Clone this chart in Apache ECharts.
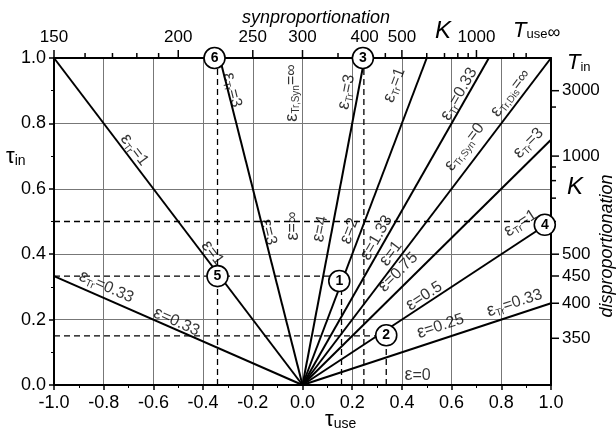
<!DOCTYPE html>
<html>
<head>
<meta charset="utf-8">
<script src="https://cdn.jsdelivr.net/npm/echarts@6/dist/echarts.min.js"></script>
<style>
  html, body { margin: 0; background: #fff; }
  #chart { width: 616px; height: 442px; }
</style>
</head>
<body>
<div id="chart"></div>
<script>
// ε fan: every line starts at the origin and ends here
const lineEndX = [-1, -1, -0.333, 0.25, 0.5, 0.75, 1, 1, 1, 1];
const lineEndY = [0.333, 1, 1, 1, 1, 1, 1, 0.75, 0.5, 0.25];

// dashed guides, from (x1,y1) to (x2,y2)
const dashX1 = [-1, -1, -1, -0.342, 0.157, 0.247, 0.337];
const dashY1 = [0.5, 0.333, 0.15, 0, 0, 0, 0];
const dashX2 = [0.96, 0.14, 0.33, -0.342, 0.157, 0.247, 0.337];
const dashY2 = [0.5, 0.333, 0.15, 1, 0.3, 1, 0.14];

// circled state points
const markNo = ['1', '2', '3', '4', '5', '6'];
const markX = [0.148, 0.337, 0.243, 0.975, -0.342, -0.354];
const markY = [0.318, 0.152, 1, 0.49, 0.333, 1];

// labels along the fan lines
const labSub = ['Tr', '', 'Tr', '', 'Tr', '', 'Tr,Syn', '', '', 'Tr', '', 'Tr', '', 'Tr', '', '', '', '', 'Tr', 'Tr', 'Tr', 'Tr,Syn', 'Tr,Dis', ''];
const labVal = ['=1', '=1', '=0.33', '=0.33', '=3', '=3', '=∞', '=∞', '=4', '=3', '=2', '=1', '=1.33', '=0.33', '=1', '=0.75', '=0.5', '=0.25', '=0.33', '=1', '=3', '=0', '=∞', '=0'];
const labX = [-0.676, -0.362, -0.789, -0.507, -0.282, -0.137, -0.044, -0.04, 0.072, 0.177, 0.189, 0.37, 0.298, 0.63, 0.356, 0.385, 0.49, 0.555, 0.853, 0.877, 0.909, 0.652, 0.837, 0.463];
const labY = [0.719, 0.404, 0.30, 0.193, 0.902, 0.468, 0.893, 0.486, 0.477, 0.896, 0.471, 0.917, 0.45, 0.89, 0.402, 0.345, 0.272, 0.18, 0.251, 0.495, 0.74, 0.728, 0.893, 0.03];
const labAngle = [-53, -53, -24, -24, -76, -76, 90, 90, 79, 79, 69, 69, 60, 60, 53, 45, 33, 18, 18, 33, 45, 53, 53, 0];

// temperature scales (K), tau = 1 - T0/T
const T0 = 300;
const topMajorK = [150, 200, 250, 300, 400, 500, 1000];
const topMinorK = [160, 170, 180, 190, 350, 450, 600, 700, 800, 900, 2000, 3000];
const rightMajorK = [3000, 1000, 500, 450, 400, 350];
const rightMinorK = [2000, 900, 800, 700, 600];

const FONT = '"Liberation Sans", Arial, sans-serif';
const tau = T => 1 - T0 / T;

const chart = echarts.init(document.getElementById('chart'));

function tickItem(len, horizontal, labels) {
  return function (params, api) {
    const p = api.coord([api.value(0), api.value(1)]);
    const kids = [];
    if (horizontal) {
      kids.push({ type: 'line', shape: { x1: p[0], y1: p[1], x2: p[0] + len, y2: p[1] }, style: { stroke: '#000', lineWidth: 1.5 } });
      if (labels) kids.push({ type: 'text', style: { text: String(labels[params.dataIndex]), x: p[0] + 11, y: p[1], align: 'left', verticalAlign: 'middle', font: '17px ' + FONT, fill: '#000' } });
    } else {
      kids.push({ type: 'line', shape: { x1: p[0], y1: p[1], x2: p[0], y2: p[1] - len }, style: { stroke: '#000', lineWidth: 1.5 } });
      if (labels) kids.push({ type: 'text', style: { text: String(labels[params.dataIndex]), x: p[0], y: p[1] - 12, align: 'center', verticalAlign: 'bottom', font: '17px ' + FONT, fill: '#000' } });
    }
    return { type: 'group', children: kids };
  };
}

const fanSeries = lineEndX.map((x, i) => ({
  type: 'line',
  data: [[0, 0], [x, lineEndY[i]]],
  symbol: 'none',
  silent: true,
  z: 3,
  lineStyle: { color: '#000', width: 2 }
}));

const guideSeries = dashX1.map((x, i) => ({
  type: 'line',
  data: [[x, dashY1[i]], [dashX2[i], dashY2[i]]],
  symbol: 'none',
  silent: true,
  z: 2,
  lineStyle: { color: '#000', width: 1.3, type: [6, 4] }
}));

const option = {
  animation: false,
  backgroundColor: '#fff',
  grid: { left: 54, right: 65, top: 58, bottom: 57 },
  xAxis: [
    {
      type: 'value', min: -1, max: 1, interval: 0.2, position: 'bottom',
      axisLine: { onZero: false, lineStyle: { color: '#000', width: 2 } },
      axisTick: { length: 5, lineStyle: { color: '#000', width: 1.5 } },
      minorTick: { show: true, splitNumber: 2, length: 3, lineStyle: { color: '#000' } },
      axisLabel: {
        color: '#000', fontSize: 18, fontFamily: FONT, margin: 9,
        formatter: v => (Math.abs(v) < 1e-9 ? '0.0' : v.toFixed(1))
      },
      splitLine: { show: true, lineStyle: { color: '#777', width: 1 } }
    },
    {
      type: 'value', min: -1, max: 1, position: 'top',
      axisLine: { onZero: false, lineStyle: { color: '#000', width: 2 } },
      axisTick: { show: false }, axisLabel: { show: false }, splitLine: { show: false }
    }
  ],
  yAxis: [
    {
      type: 'value', min: 0, max: 1, interval: 0.2, position: 'left',
      axisLine: { onZero: false, lineStyle: { color: '#000', width: 2 } },
      axisTick: { length: 5, lineStyle: { color: '#000', width: 1.5 } },
      minorTick: { show: true, splitNumber: 2, length: 3, lineStyle: { color: '#000' } },
      axisLabel: {
        color: '#000', fontSize: 18, fontFamily: FONT, margin: 8,
        formatter: v => (Math.abs(v) < 1e-9 ? '0.0' : v.toFixed(1))
      },
      splitLine: { show: true, lineStyle: { color: '#777', width: 1 } }
    },
    {
      type: 'value', min: 0, max: 1, position: 'right',
      axisLine: { show: true, onZero: false, lineStyle: { color: '#000', width: 2 } },
      axisTick: { show: false }, axisLabel: { show: false }, splitLine: { show: false }
    }
  ],
  series: [
    ...guideSeries,
    ...fanSeries,
    {
      // top K scale
      type: 'custom', clip: false, silent: true, z: 4,
      data: topMajorK.map(k => [tau(k), 1]),
      renderItem: tickItem(8, false, topMajorK)
    },
    {
      type: 'custom', clip: false, silent: true, z: 4,
      data: topMinorK.map(k => [tau(k), 1]),
      renderItem: tickItem(5, false, null)
    },
    {
      // right K scale
      type: 'custom', clip: false, silent: true, z: 4,
      data: rightMajorK.map(k => [1, tau(k)]),
      renderItem: tickItem(8, true, rightMajorK)
    },
    {
      type: 'custom', clip: false, silent: true, z: 4,
      data: rightMinorK.map(k => [1, tau(k)]),
      renderItem: tickItem(5, true, null)
    },
    {
      // ε labels
      type: 'scatter', clip: false, silent: true, z: 6,
      symbolSize: 1,
      itemStyle: { color: 'rgba(0,0,0,0)' },
      data: labX.map((x, i) => ({ value: [x, labY[i]], label: { rotate: labAngle[i] } })),
      label: {
        show: true, position: 'inside', color: '#000',
        formatter: p => {
          const s = labSub[p.dataIndex];
          return '{e|ε}' + (s ? '{s|' + s + '}' : '') + '{v|' + labVal[p.dataIndex] + '}';
        },
        rich: {
          e: { fontSize: 18, fontFamily: FONT, color: '#000' },
          s: { fontSize: 10, fontFamily: FONT, color: '#000', padding: [9, 0, 0, 0] },
          v: { fontSize: 16, fontFamily: FONT, color: '#000' }
        }
      }
    },
    {
      // circled points
      type: 'scatter', clip: false, silent: true, z: 8,
      symbol: 'circle', symbolSize: 21,
      itemStyle: { color: '#fff', borderColor: '#000', borderWidth: 1.6, opacity: 1 },
      data: markX.map((x, i) => [x, markY[i]]),
      label: {
        show: true, position: 'inside', color: '#000',
        fontSize: 14, fontWeight: 'bold', fontFamily: FONT,
        formatter: p => markNo[p.dataIndex]
      }
    }
  ],
  graphic: [
    { type: 'text', x: 316, y: 18, style: { text: 'synproportionation', font: 'italic 18px ' + FONT, fill: '#000', align: 'center', verticalAlign: 'middle' } },
    { type: 'text', x: 443, y: 31, style: { text: 'K', font: 'italic 24px ' + FONT, fill: '#000', align: 'center', verticalAlign: 'middle' } },
    {
      type: 'text', x: 513, y: 31,
      style: {
        text: '{t|T}{s|use}{i|∞}', align: 'left', verticalAlign: 'middle',
        rich: {
          t: { font: 'italic 22px ' + FONT, fill: '#000' },
          s: { font: '13px ' + FONT, fill: '#000', padding: [6, 0, 0, 0] },
          i: { font: '18px ' + FONT, fill: '#000', padding: [4, 0, 0, 0] }
        }
      }
    },
    {
      type: 'text', x: 567, y: 63,
      style: {
        text: '{t|T}{s|in}', align: 'left', verticalAlign: 'middle',
        rich: {
          t: { font: 'italic 22px ' + FONT, fill: '#000' },
          s: { font: '13px ' + FONT, fill: '#000', padding: [8, 0, 0, 0] }
        }
      }
    },
    { type: 'text', x: 575, y: 187, style: { text: 'K', font: 'italic 24px ' + FONT, fill: '#000', align: 'center', verticalAlign: 'middle' } },
    { type: 'text', x: 607, y: 246, rotation: Math.PI / 2, style: { text: 'disproportionation', font: 'italic 18px ' + FONT, fill: '#000', align: 'center', verticalAlign: 'middle' } },
    {
      type: 'text', x: 6, y: 157,
      style: {
        text: '{t|τ}{s|in}', align: 'left', verticalAlign: 'middle',
        rich: {
          t: { font: '22px ' + FONT, fill: '#000' },
          s: { font: '14px ' + FONT, fill: '#000', padding: [9, 0, 0, 0] }
        }
      }
    },
    {
      type: 'text', x: 325, y: 420,
      style: {
        text: '{t|τ}{s|use}', align: 'left', verticalAlign: 'middle',
        rich: {
          t: { font: '22px ' + FONT, fill: '#000' },
          s: { font: '14px ' + FONT, fill: '#000', padding: [9, 0, 0, 0] }
        }
      }
    }
  ]
};

chart.setOption(option);
</script>
</body>
</html>
